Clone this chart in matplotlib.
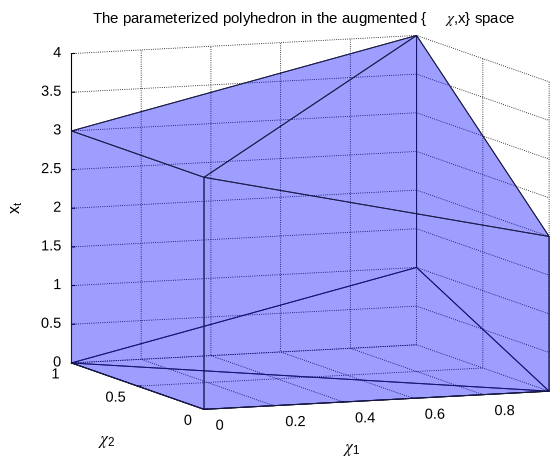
import numpy as np
import matplotlib
matplotlib.use("Agg")
import matplotlib.pyplot as plt
import matplotlib.patheffects as pe
from mpl_toolkits.mplot3d.art3d import Poly3DCollection

plt.rcParams['font.family'] = ['Liberation Sans', 'DejaVu Sans']
plt.rcParams['mathtext.fontset'] = 'stix'
plt.rcParams['font.size'] = 10.5

# polyhedron vertices (chi1, chi2, x_t)
chi1 = [0.0, 0.0, 0.99, 0.0, 0.0, 0.99, 0.99, 0.99]
chi2 = [1.0, 0.0, 0.0, 1.0, 0.0, 1.0, 0.0, 1.0]
xt = [0.0, 0.0, 0.0, 3.0, 3.0, 4.0, 2.0, 1.0]

# faces as vertex indices
faces = [
    [0, 1, 2],
    [0, 2, 7],
    [0, 1, 4, 3],
    [1, 2, 6, 4],
    [2, 6, 5, 7],
    [0, 7, 5, 3],
    [3, 4, 5],
    [4, 6, 5],
]

x1_ticks = [0, 0.2, 0.4, 0.6, 0.8]
x2_ticks = [0, 0.5, 1]
z_ticks = [0, 0.5, 1, 1.5, 2, 2.5, 3, 3.5, 4]

fig = plt.figure(figsize=(5.6, 4.58), dpi=100)
ax = fig.add_axes([0.0436, 0.0266, 1.0, 0.95], projection='3d')
ax.set_proj_type('ortho')
ax.view_init(elev=7.8, azim=-111.2)
ax.set_box_aspect((1.01, 1, 0.852), zoom=1.355)

pts = np.column_stack([chi1, chi2, xt])
polys = [pts[f] for f in faces]
coll = Poly3DCollection(polys, facecolors=(0, 0, 1, 0.21),
                        edgecolors=(0.1, 0.1, 0.25, 0.9), linewidths=0.7)
coll.set_clip_on(False)
ax.add_collection3d(coll)

ax.set_xlim(0, 0.99)
ax.set_ylim(0, 1)
ax.set_zlim(0, 4)
ax.set_xticks(x1_ticks)
ax.set_yticks(x2_ticks)
ax.set_zticks(z_ticks)
ax.set_xticklabels(['0', '0.2', '0.4', '0.6', '0.8'], ha='left', va='top')
ax.set_yticklabels(['0', '0.5', '1'], ha='right', va='center')
ax.set_zticklabels(['0', '0.5', '1', '1.5', '2', '2.5', '3', '3.5', '4'],
                   ha='right', va='center')
ax.tick_params(axis='x', pad=-4)
ax.tick_params(axis='y', pad=-4)
ax.tick_params(axis='z', pad=-5)

# nudge tick labels a few points (3d axes reset their transforms)
for lab in ax.get_xticklabels():
    lab.set_path_effects([pe.Stroke(offset=(6.0, -0.5), linewidth=0)])
for lab in ax.get_yticklabels():
    lab.set_path_effects([pe.Stroke(offset=(-2.5, -2.5), linewidth=0)])
for lab in ax.get_zticklabels():
    lab.set_path_effects([pe.Stroke(offset=(-1.0, 0), linewidth=0)])

for axis in (ax.xaxis, ax.yaxis, ax.zaxis):
    axis.set_pane_color((1, 1, 1, 0))
    axis._axinfo['grid'].update({'color': 'k', 'linewidth': 0.6, 'linestyle': ':'})
    axis._axinfo['axisline']['color'] = 'k'
    axis._axinfo['axisline']['linewidth'] = 0.8
    axis._axinfo['tick']['inward_factor'] = 0.0
    axis._axinfo['tick']['outward_factor'] = 0.12

# axis labels
fig.text(352 / 560, 1 - 450 / 458, r'$\chi_{\mathregular{1}}$', fontsize=12,
         ha='center', va='center')
fig.text(107 / 560, 1 - 442 / 458, r'$\chi_{\mathregular{2}}$', fontsize=12,
         ha='center', va='center')
fig.text(17 / 560, 1 - 207 / 458, r'x$_{\mathregular{t}}$', fontsize=11.5,
         rotation=90, ha='center', va='center')

fig.suptitle(r'The parameterized polyhedron in the augmented {     $\chi$,x} space',
             x=0.543, y=0.978, fontsize=10.8)

fig.savefig('out.png', dpi=100)
